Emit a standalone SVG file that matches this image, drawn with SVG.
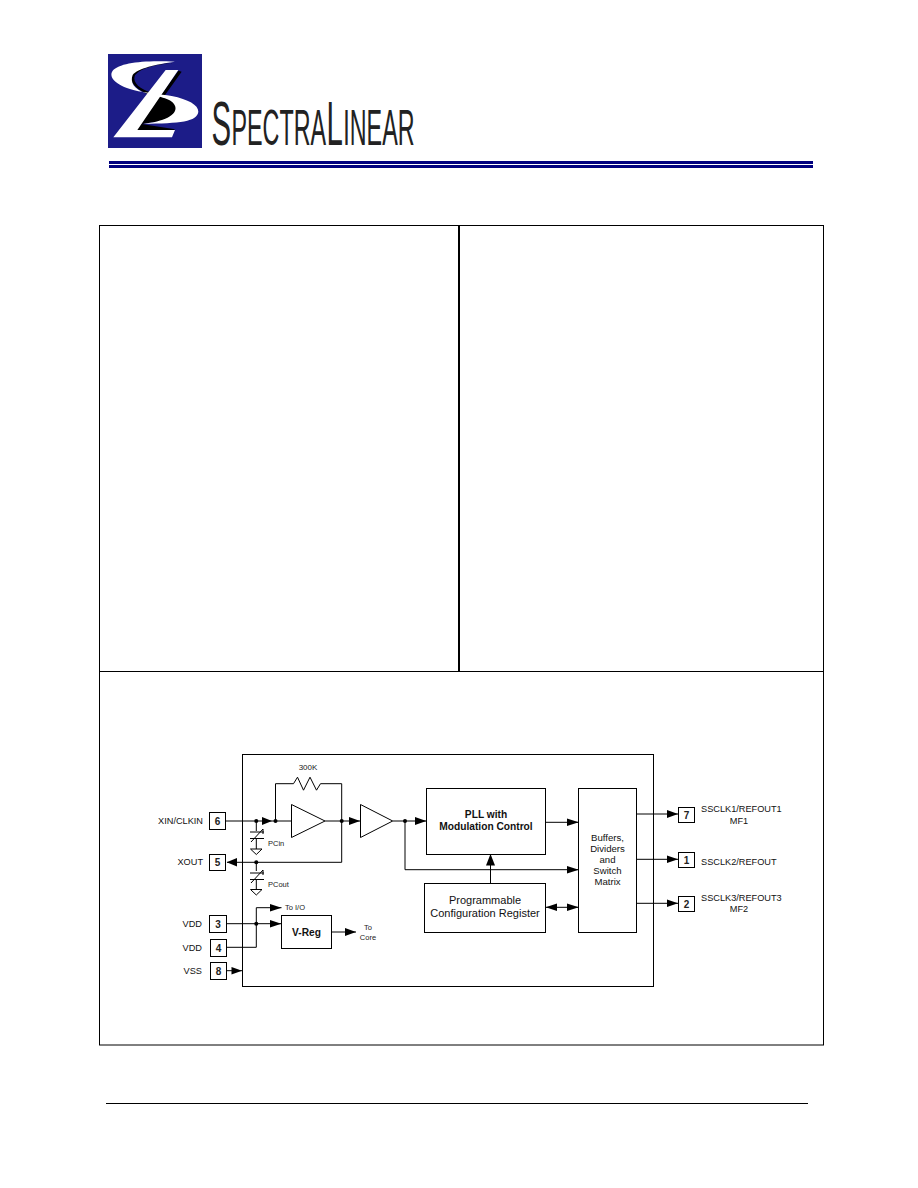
<svg xmlns="http://www.w3.org/2000/svg" width="918" height="1188" viewBox="0 0 918 1188">
<style>
text{font-family:"Liberation Sans",Arial,sans-serif;fill:#000}
.l{font-size:9.200px;fill:#111}
.s{font-size:7.500px;fill:#222}
.b{font-size:11px;fill:#111}
.bb{font-size:10.200px;font-weight:bold;fill:#111}
.q{font-size:9.600px;fill:#111}
.n{font-size:10px;font-weight:bold;text-anchor:middle;fill:#222}
.m{text-anchor:middle}
.box{fill:none;stroke:#000;stroke-width:1}
.w{fill:#fff}
.k{fill:#000}
#connectors path{fill:none;stroke:#000;stroke-width:1}
#connectors circle{fill:#000}
#connectors polygon.h{fill:#000}
</style>
<rect width="918" height="1188" fill="#fff"/>

<g id="logo">
<rect x="108" y="54" width="94" height="94" fill="#1c1c88"/>
<g transform="translate(100,40) scale(0.3333)">
<path class="k" d="M228 68C160 72 115 88 104 108C98 128 118 148 160 160L205 178C240 195 240 225 205 240L125 252L225 268L215 275L105 272L235 92L245 95L170 200L150 165C110 150 85 125 95 102C110 80 170 70 228 68Z"/>
<path class="w" d="M225 65C130 60 60 68 38 92C25 110 45 135 100 150C140 160 180 162 215 168C265 178 295 195 295 215C292 245 240 250 130 251C190 245 232 225 226 200C218 175 180 172 140 160C100 148 90 125 98 105C112 85 170 72 225 65Z"/>
<path class="w" d="M197 90H235L112 270H225L216 292H40Z"/>
</g>
<text transform="translate(211.500,145) scale(0.466,1)" font-size="63" style="fill:#222">S<tspan font-size="50" dx="1">PECTRA</tspan><tspan font-size="63" dx="1">L</tspan><tspan font-size="50" dx="1">INEAR</tspan></text>
</g>

<g id="header-rule">
<rect x="109" y="161" width="704" height="3" fill="#00007f"/>
<rect x="109" y="165" width="704" height="3" fill="#00007f"/>
</g>

<g id="frame">
<rect x="99.500" y="225.500" width="724" height="819.500" class="box"/>
<path d="M99.500 671.500H823.500" class="box"/>
<path d="M459 225V671" fill="none" stroke="#000" stroke-width="2"/>
</g>

<g id="footer-rule"><path d="M106 1103.500H808" fill="none" stroke="#000" stroke-width="1"/></g>

<g id="chip"><rect x="242.500" y="754.500" width="411" height="232" class="box"/></g>

<g id="connectors">
<path d="M225.700 821H291.500"/>
<polygon class="h" points="262,817 272,821 262,825"/>
<path d="M275.500 821V783.700H293.500l4 -6.500 6 13 6.500 -13 6.500 13 4 -6.500H341.700V862.300H227"/>
<polygon class="h" points="237,858 226.700,862.300 237,866.500"/>
<path d="M325 821H360"/>
<polygon class="h" points="349,817 360,821 349,825"/>
<path d="M392.700 821H426.300"/>
<polygon class="h" points="415,817 426.300,821 415,825"/>
<path d="M405 821V869.700H578.700"/>
<polygon class="h" points="567,866 578.700,869.700 567,873.500"/>
<path d="M545.700 822.300H578.700"/>
<polygon class="h" points="567,818.500 578.700,822.300 567,826"/>
<path d="M490.500 883.300V854"/>
<polygon class="h" points="486,865.500 490.500,854 495,865.500"/>
<path d="M545.700 907.300H578.700"/>
<polygon class="h" points="557,903.500 545.700,907.300 557,911"/>
<polygon class="h" points="567,903.500 578.700,907.300 567,911"/>
<path d="M636.700 814H678"/>
<polygon class="h" points="667,810 678,814 667,818"/>
<path d="M636.700 859.300H678"/>
<polygon class="h" points="667,855.500 678,859.300 667,863"/>
<path d="M636.700 903.300H678"/>
<polygon class="h" points="667,899.500 678,903.300 667,907"/>
<path d="M256.300 821V831M250 832H264M250 838.500H264M256.300 838.500V849M250.500 849H262L256.300 854.500ZM251 842L263 829M263 829V834"/>
<path d="M256.300 862.300V871M250 873H264M250 879.500H264M256.300 879.500V889.500M250.500 889.500H262L256.300 895ZM251 883L263 870M263 870V875"/>
<path d="M226.700 923.700H281.300"/>
<polygon class="h" points="270,920 281.300,923.700 270,927.500"/>
<path d="M226.700 947.300H256.300V907.700H281.500"/>
<polygon class="h" points="270,904 281.500,907.700 270,911.500"/>
<path d="M331.700 932H356"/>
<polygon class="h" points="345,928 356,932 345,936"/>
<path d="M226.700 970.700H242"/>
<polygon class="h" points="231.500,967 242,970.700 231.500,974.500"/>
<circle cx="256.300" cy="821" r="2"/><circle cx="275.500" cy="821" r="2"/><circle cx="341.700" cy="821" r="2"/><circle cx="405" cy="821" r="2"/><circle cx="256.300" cy="862.300" r="2"/><circle cx="256.300" cy="923.700" r="2"/>
</g>

<g id="resistor-label"><text class="s m" x="308" y="770" style="font-size:8px">300K</text></g>
<g id="pin6"><rect x="209.500" y="812.500" width="16" height="17" class="box"/><text class="n" x="217.500" y="825">6</text><text class="l" x="203" y="824" text-anchor="end">XIN/CLKIN</text></g>
<g id="pin5"><rect x="209.500" y="854.500" width="16" height="16" class="box"/><text class="n" x="217.500" y="866">5</text><text class="l" x="203" y="865" text-anchor="end">XOUT</text></g>
<g id="pin3"><rect x="209.500" y="915.500" width="17" height="17" class="box"/><text class="n" x="218" y="928">3</text><text class="l" x="202" y="927" text-anchor="end">VDD</text></g>
<g id="pin4"><rect x="210.500" y="939.500" width="16" height="17" class="box"/><text class="n" x="218.500" y="952">4</text><text class="l" x="202" y="951" text-anchor="end">VDD</text></g>
<g id="pin8"><rect x="210.500" y="962.500" width="16" height="17" class="box"/><text class="n" x="218.500" y="975">8</text><text class="l" x="202" y="974" text-anchor="end">VSS</text></g>
<g id="amp1"><polygon points="291.500,804.500 325,821 291.500,837.500" fill="#fff" stroke="#000"/></g>
<g id="amp2"><polygon points="360.500,804.500 392.700,821 360.500,837.500" fill="#fff" stroke="#000"/></g>
<g id="cap-in"><text class="s" x="268" y="846">PCin</text></g>
<g id="cap-out"><text class="s" x="268" y="887">PCout</text></g>
<g id="pll"><rect x="426.500" y="788.500" width="119" height="66" class="box"/><text class="bb m" x="486" y="818">PLL with</text><text class="bb m" x="486" y="830">Modulation Control</text></g>
<g id="config"><rect x="424.500" y="883.500" width="121" height="49" class="box"/><text class="b m" x="485" y="904">Programmable</text><text class="b m" x="485" y="917">Configuration Register</text></g>
<g id="buffers"><rect x="578.500" y="788.500" width="58" height="144" class="box"/><text class="q m" x="607.500" y="841">Buffers,</text><text class="q m" x="607.500" y="852">Dividers</text><text class="q m" x="607.500" y="863">and</text><text class="q m" x="607.500" y="874">Switch</text><text class="q m" x="607.500" y="885">Matrix</text></g>
<g id="vreg"><rect x="281.500" y="915.500" width="50" height="33" class="box"/><text class="bb m" x="306.500" y="936">V-Reg</text></g>
<g id="io-label"><text class="s" x="285" y="910">To I/O</text></g>
<g id="core-label"><text class="s m" x="368" y="930">To</text><text class="s m" x="368" y="940">Core</text></g>
<g id="pin7"><rect x="678.500" y="807.500" width="16" height="15" class="box"/><text class="n" x="686.500" y="819">7</text><text class="l" x="701" y="812">SSCLK1/REFOUT1</text><text class="l m" x="739" y="824">MF1</text></g>
<g id="pin1"><rect x="678.500" y="852.500" width="16" height="15" class="box"/><text class="n" x="686.500" y="864">1</text><text class="l" x="701" y="865">SSCLK2/REFOUT</text></g>
<g id="pin2"><rect x="678.500" y="896.500" width="16" height="15" class="box"/><text class="n" x="686.500" y="908">2</text><text class="l" x="701" y="901">SSCLK3/REFOUT3</text><text class="l m" x="739" y="912">MF2</text></g>
</svg>
